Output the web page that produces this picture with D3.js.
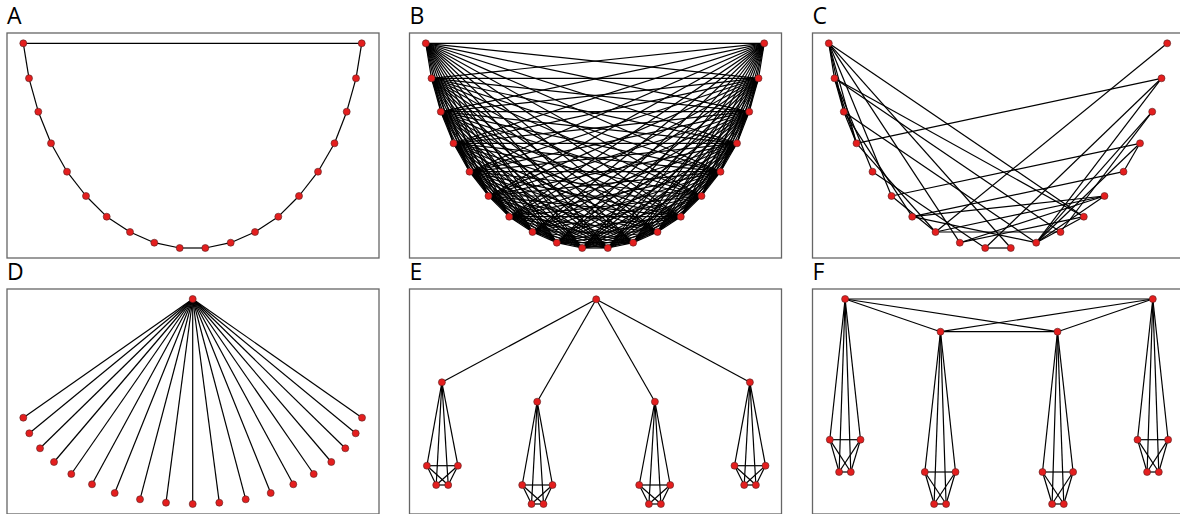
<!DOCTYPE html>
<html>
<head>
<meta charset="utf-8">
<script src="https://cdn.jsdelivr.net/npm/d3@7"></script>
<style>
  body { margin: 0; background: #fff; }
  svg { display: block; }
</style>
</head>
<body>
<svg id="chart" width="1180" height="514"></svg>
<script>
// ---- panel grid ----
const panelLabels = ["A", "B", "C", "D", "E", "F"];
const columnLeft = [7, 409.5, 812.5];
const rowTop = [33, 289];
const panelWidth = 372;
const panelHeight = 225;

// ---- U-shaped layout shared by panels A, B and C (panel units) ----
const uX = [16.3, 22.0, 31.3, 44.0, 60.0, 79.0, 99.7, 123.0, 147.3, 172.7,
            198.3, 223.7, 248.0, 271.3, 292.0, 311.0, 327.5, 339.7, 349.0, 354.7];
const uY = [10.3, 45.3, 78.7, 110.3, 138.7, 163.0, 183.7, 199.0, 209.7, 215.0,
            215.0, 209.7, 199.0, 183.7, 163.0, 138.7, 110.3, 78.7, 45.3, 10.3];

// A: ring
const ringEdges = [[0,1],[1,2],[2,3],[3,4],[4,5],[5,6],[6,7],[7,8],[8,9],[9,10],
                   [10,11],[11,12],[12,13],[13,14],[14,15],[15,16],[16,17],[17,18],[18,19],[19,0]];

// C: sparse random graph
const sparseEdges = [[0,1],[0,2],[0,3],[0,5],[0,8],[0,10],[0,13],
                     [1,2],[1,3],[1,4],[1,12],[1,13],
                     [2,3],[2,6],[2,11],
                     [3,7],[3,18],
                     [4,9],
                     [5,7],[5,16],
                     [6,11],[6,14],[6,15],
                     [7,12],[7,14],[7,19],
                     [8,13],[8,14],
                     [9,10],[9,18],
                     [11,13],[11,14],[11,16],[11,17],[11,18],
                     [12,17],
                     [15,16]];

// D: star (node 0 is the hub)
const starX = [185.7, 16.3, 22.3, 33.0, 47.0, 64.3, 85.0, 107.7, 133.0, 159.0, 185.7,
               212.3, 238.7, 263.7, 286.3, 306.7, 324.3, 338.3, 348.7, 355.0];
const starY = [10.0, 128.7, 144.3, 159.3, 173.0, 185.0, 195.3, 204.0, 210.3, 213.7, 215.0,
               213.7, 210.3, 204.0, 195.3, 185.0, 173.0, 159.3, 144.3, 128.7];

// E: root -> four hubs, each hub forming a 5-clique with its leaves
const treeX = [186.7, 32.4, 127.7, 245.4, 340.4,
               17.4, 48.4, 26.7, 38.7,
               112.7, 143.0, 122.0, 134.0,
               229.7, 260.7, 239.4, 251.4,
               325.0, 356.0, 334.7, 346.4];
const treeY = [10.3, 93.3, 112.7, 112.7, 93.3,
               176.7, 176.7, 196.0, 196.0,
               196.0, 196.0, 215.0, 215.0,
               196.0, 196.0, 215.0, 215.0,
               176.7, 176.7, 196.0, 196.0];
const treeRootLinks = [[0,1],[0,2],[0,3],[0,4]];
const treeCliques = [[1,5,6,7,8],[2,9,10,11,12],[3,13,14,15,16],[4,17,18,19,20]];

// F: four hubs forming a 4-clique, each hub forming a 5-clique with its leaves
const hubX = [32.6, 128.0, 245.0, 340.3,
              17.3, 48.0, 26.6, 38.3,
              112.3, 143.0, 121.6, 133.6,
              230.0, 260.6, 239.6, 251.3,
              325.0, 355.6, 334.6, 346.3];
const hubY = [10.0, 42.7, 42.7, 10.0,
              150.7, 150.7, 183.0, 183.0,
              183.0, 183.0, 215.0, 215.0,
              183.0, 183.0, 215.0, 215.0,
              150.7, 150.7, 183.0, 183.0];
const hubCliques = [[0,1,2,3],[0,4,5,6,7],[1,8,9,10,11],[2,12,13,14,15],[3,16,17,18,19]];

// ---- helpers ----
const cliquePairs = group =>
  group.flatMap((a, i) => group.slice(i + 1).map(b => [a, b]));

const allPairs = n => cliquePairs(d3.range(n));

const nodesFrom = (xs, ys) => xs.map((x, i) => ({ x, y: ys[i] }));

const panels = [
  { nodes: nodesFrom(uX, uY), edges: ringEdges },
  { nodes: nodesFrom(uX, uY), edges: allPairs(uX.length) },
  { nodes: nodesFrom(uX, uY), edges: sparseEdges },
  { nodes: nodesFrom(starX, starY), edges: d3.range(1, starX.length).map(i => [0, i]) },
  { nodes: nodesFrom(treeX, treeY), edges: treeRootLinks.concat(treeCliques.flatMap(cliquePairs)) },
  { nodes: nodesFrom(hubX, hubY), edges: hubCliques.flatMap(cliquePairs) }
];

const svg = d3.select("#chart");

panels.forEach((p, k) => {
  const left = columnLeft[k % 3];
  const top = rowTop[Math.floor(k / 3)];
  const x = d3.scaleLinear().domain([0, panelWidth]).range([left, left + panelWidth]);
  const y = d3.scaleLinear().domain([0, panelHeight]).range([top, top + panelHeight]);

  const g = svg.append("g").attr("class", "panel");

  g.append("rect")
    .attr("x", x(0)).attr("y", y(0))
    .attr("width", x(panelWidth) - x(0)).attr("height", y(panelHeight) - y(0))
    .attr("fill", "#fff").attr("stroke", "#666").attr("stroke-width", 1.3);

  g.append("g").selectAll("line").data(p.edges).join("line")
    .attr("x1", d => x(p.nodes[d[0]].x)).attr("y1", d => y(p.nodes[d[0]].y))
    .attr("x2", d => x(p.nodes[d[1]].x)).attr("y2", d => y(p.nodes[d[1]].y))
    .attr("stroke", "#000").attr("stroke-width", 1.2);

  g.append("g").selectAll("circle").data(p.nodes).join("circle")
    .attr("cx", d => x(d.x)).attr("cy", d => y(d.y)).attr("r", 3.5)
    .attr("fill", "#e41e1e").attr("stroke", "#552222").attr("stroke-width", 0.6);

  g.append("text")
    .attr("x", left).attr("y", top - 9)
    .attr("font-family", "'Open Sans', sans-serif").attr("font-size", 23)
    .attr("fill", "#000")
    .text(panelLabels[k]);
});
</script>
</body>
</html>
